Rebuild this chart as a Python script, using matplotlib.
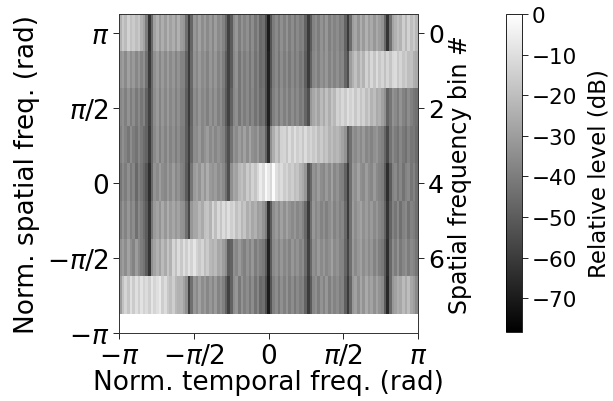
import numpy as np
import matplotlib
matplotlib.use('Agg')
import matplotlib.pyplot as plt

# relative level in dB, one list per spatial frequency bin, 113 temporal bins
bin0 = [-24,-17,-21,-14,-19,-16,-20,-17,-24,-28,-40,-62,
        -46,-29,-24,-31,-25,-30,-23,-29,-25,-31,-24,-30,-32,-44,-60,
        -47,-32,-36,-29,-35,-30,-36,-31,-37,-30,-36,-33,-38,-46,-58,
        -50,-36,-32,-40,-33,-38,-34,-41,-35,-42,-37,-46,-44,-54,-70,
        -52,-40,-36,-41,-34,-39,-33,-40,-35,-41,-36,-40,-38,-48,-60,
        -50,-38,-35,-40,-33,-38,-32,-39,-34,-38,-35,-40,-38,-48,-60,
        -45,-30,-27,-33,-25,-31,-24,-30,-26,-32,-26,-30,-33,-46,-62,
        -44,-28,-24,-20,-23,-15,-22,-14,-20,-16,-22]
bin1 = [-33,-30,-36,-29,-35,-31,-37,-32,-38,-34,-44,-60,
        -46,-34,-30,-37,-31,-36,-30,-36,-32,-38,-33,-38,-38,-48,-60,
        -46,-33,-37,-31,-36,-33,-38,-32,-37,-32,-38,-34,-40,-49,-58,
        -50,-37,-33,-42,-35,-40,-36,-42,-36,-43,-38,-46,-44,-54,-68,
        -52,-40,-36,-42,-35,-40,-35,-41,-36,-41,-37,-42,-39,-49,-60,
        -48,-37,-34,-39,-33,-37,-32,-38,-33,-38,-34,-39,-37,-47,-54,
        -30,-24,-19,-25,-18,-23,-14,-20,-12,-18,-11,-17,-13,-19,-13,
        -18,-12,-11,-17,-13,-18,-15,-20,-19,-24,-26]
bin2 = [-37,-34,-39,-33,-40,-35,-41,-36,-42,-38,-48,-58,
        -46,-35,-31,-38,-32,-37,-31,-37,-33,-39,-34,-39,-39,-49,-60,
        -47,-35,-38,-32,-37,-34,-39,-33,-38,-33,-39,-35,-41,-50,-58,
        -48,-37,-34,-42,-35,-40,-36,-42,-37,-43,-38,-45,-43,-54,-68,
        -50,-39,-35,-41,-34,-39,-34,-40,-35,-40,-36,-41,-38,-47,-54,
        -32,-27,-23,-28,-21,-26,-19,-25,-18,-22,-14,-17,-12,-16,-10,
        -14,-11,-17,-12,-18,-14,-20,-16,-23,-20,-26,-24,-29,-34,-48,
        -42,-33,-36,-40,-33,-38,-41,-35,-39,-42,-44]
bin3 = [-39,-34,-38,-42,-35,-40,-43,-37,-41,-45,-48,-60,
        -46,-36,-32,-39,-33,-38,-32,-38,-34,-40,-35,-40,-40,-49,-59,
        -46,-35,-36,-31,-37,-33,-30,-36,-32,-37,-33,-36,-38,-47,-54,
        -43,-33,-36,-30,-35,-29,-35,-28,-34,-36,-31,-38,-37,-48,-64,
        -34,-25,-18,-23,-14,-13,-18,-11,-16,-10,-15,-12,-17,-11,-16,
        -13,-17,-14,-20,-16,-21,-18,-23,-20,-24,-22,-25,-28,-33,-52,
        -44,-33,-36,-32,-36,-31,-37,-34,-38,-34,-32,-37,-39,-47,-56,
        -43,-36,-40,-43,-37,-41,-44,-38,-42,-41,-45]
bin4 = [-42,-36,-40,-34,-41,-37,-46,-38,-42,-47,-52,-64,
        -46,-33,-36,-30,-35,-37,-31,-36,-30,-37,-33,-38,-40,-50,-60,
        -42,-31,-28,-33,-26,-32,-25,-31,-33,-30,-35,-32,-36,-44,-54,
        -34,-27,-29,-22,-19,-23,-16,-21,-14,-18,-12,-6,-11,-2,-7,
        -12,-1,-10,-14,-11,-16,-13,-18,-15,-20,-18,-23,-26,-32,-54,
        -46,-33,-36,-30,-35,-37,-31,-36,-29,-37,-33,-38,-39,-48,-60,
        -44,-31,-34,-28,-34,-36,-30,-35,-37,-31,-36,-38,-40,-50,-64,
        -50,-38,-36,-42,-37,-43,-38,-36,-42,-38,-44]
bin5 = [-40,-33,-38,-32,-39,-35,-44,-36,-40,-45,-50,-62,
        -42,-31,-28,-33,-26,-32,-25,-31,-27,-32,-28,-33,-34,-44,-56,
        -32,-27,-27,-22,-26,-19,-18,-23,-13,-20,-12,-18,-11,-16,-10,
        -15,-12,-19,-15,-22,-18,-25,-21,-27,-24,-30,-28,-33,-40,-64,
        -50,-35,-31,-36,-29,-34,-28,-33,-36,-32,-37,-34,-38,-46,-60,
        -44,-32,-37,-33,-38,-34,-39,-35,-31,-38,-34,-39,-37,-46,-60,
        -44,-30,-35,-31,-28,-34,-30,-35,-31,-36,-32,-37,-39,-48,-62,
        -48,-38,-42,-36,-44,-38,-36,-43,-38,-40,-44]
bin6 = [-34,-30,-35,-28,-34,-38,-30,-36,-40,-43,-50,-62,
        -34,-28,-24,-29,-21,-26,-18,-24,-13,-19,-11,-17,-10,-15,-9,
        -14,-8,-14,-17,-13,-20,-16,-22,-24,-21,-27,-25,-30,-35,-50,
        -48,-34,-37,-31,-36,-39,-33,-38,-32,-40,-35,-39,-41,-50,-68,
        -50,-36,-33,-38,-32,-37,-33,-38,-32,-37,-33,-38,-35,-45,-58,
        -46,-34,-37,-31,-36,-32,-37,-34,-29,-36,-33,-38,-38,-47,-57,
        -44,-31,-36,-32,-29,-35,-31,-36,-32,-38,-33,-39,-41,-50,-64,
        -46,-35,-40,-33,-41,-37,-34,-40,-36,-38,-42]
bin7 = [-30,-19,-13,-18,-10,-16,-10,-15,-9,-14,-11,-15,
        -8,-13,-10,-7,-15,-11,-17,-20,-15,-22,-24,-23,-28,-34,-58,
        -44,-32,-36,-29,-35,-31,-37,-32,-37,-31,-38,-34,-39,-48,-58,
        -48,-35,-32,-41,-33,-39,-35,-41,-35,-43,-37,-46,-44,-54,-70,
        -52,-39,-35,-41,-34,-39,-33,-40,-35,-41,-36,-40,-38,-48,-60,
        -50,-37,-34,-40,-33,-38,-32,-39,-33,-38,-35,-40,-38,-49,-60,
        -47,-32,-29,-35,-27,-33,-26,-32,-28,-34,-28,-33,-36,-50,-66,
        -46,-32,-29,-25,-27,-21,-26,-20,-27,-30,-36]

levels_db = np.array([bin0, bin1, bin2, bin3, bin4, bin5, bin6, bin7])

plt.rcParams['font.family'] = 'DejaVu Sans'

fig = plt.figure(figsize=(6.13, 4.02), dpi=100)
ax = fig.add_axes([119.3/613, 1-334/402, 298.4/613, 319/402])

im = ax.imshow(levels_db, cmap='gray', vmin=-78.3, vmax=0, aspect='auto', interpolation='nearest',
               extent=[-np.pi, np.pi, -7*np.pi/8, 9*np.pi/8])
ax.set_xlim(-np.pi, np.pi)
ax.set_ylim(-np.pi, 9*np.pi/8)

pi_ticks = [-np.pi, -np.pi/2, 0, np.pi/2, np.pi]
pi_labels = [r'$-\pi$', r'$-\pi/2$', '0', r'$\pi/2$', r'$\pi$']
ax.set_xticks(pi_ticks)
ax.set_xticklabels(pi_labels)
ax.set_yticks(pi_ticks)
ax.set_yticklabels(pi_labels)
ax.tick_params(labelsize=19, width=0.6, length=4.5, pad=3)
ax.set_xlabel('Norm. temporal freq. (rad)', fontsize=19, labelpad=0)
ax.set_ylabel('Norm. spatial freq. (rad)', fontsize=19, labelpad=5)

# right axis counts the bins from the top
ax2 = ax.twinx()
ax2.set_ylim(8, -0.5)
ax2.set_yticks([0, 2, 4, 6])
ax2.tick_params(labelsize=18, width=0.6, length=4.5, pad=3)
ax2.set_ylabel('Spatial frequency bin #', fontsize=17, labelpad=3)

for a in (ax, ax2):
    for s in a.spines.values():
        s.set_linewidth(0.6)
        s.set_color('#333333')

cax = fig.add_axes([505.7/613, 1-333/402, 16/613, 318/402])
cb = fig.colorbar(im, cax=cax)
cb.set_ticks([0, -10, -20, -30, -40, -50, -60, -70])
cb.ax.tick_params(labelsize=15.5, width=0.6, length=4.5, pad=3)
cb.set_label('Relative level (dB)', fontsize=16.5, labelpad=7)
cb.outline.set_linewidth(0.6)

fig.savefig('out.png', dpi=100)
